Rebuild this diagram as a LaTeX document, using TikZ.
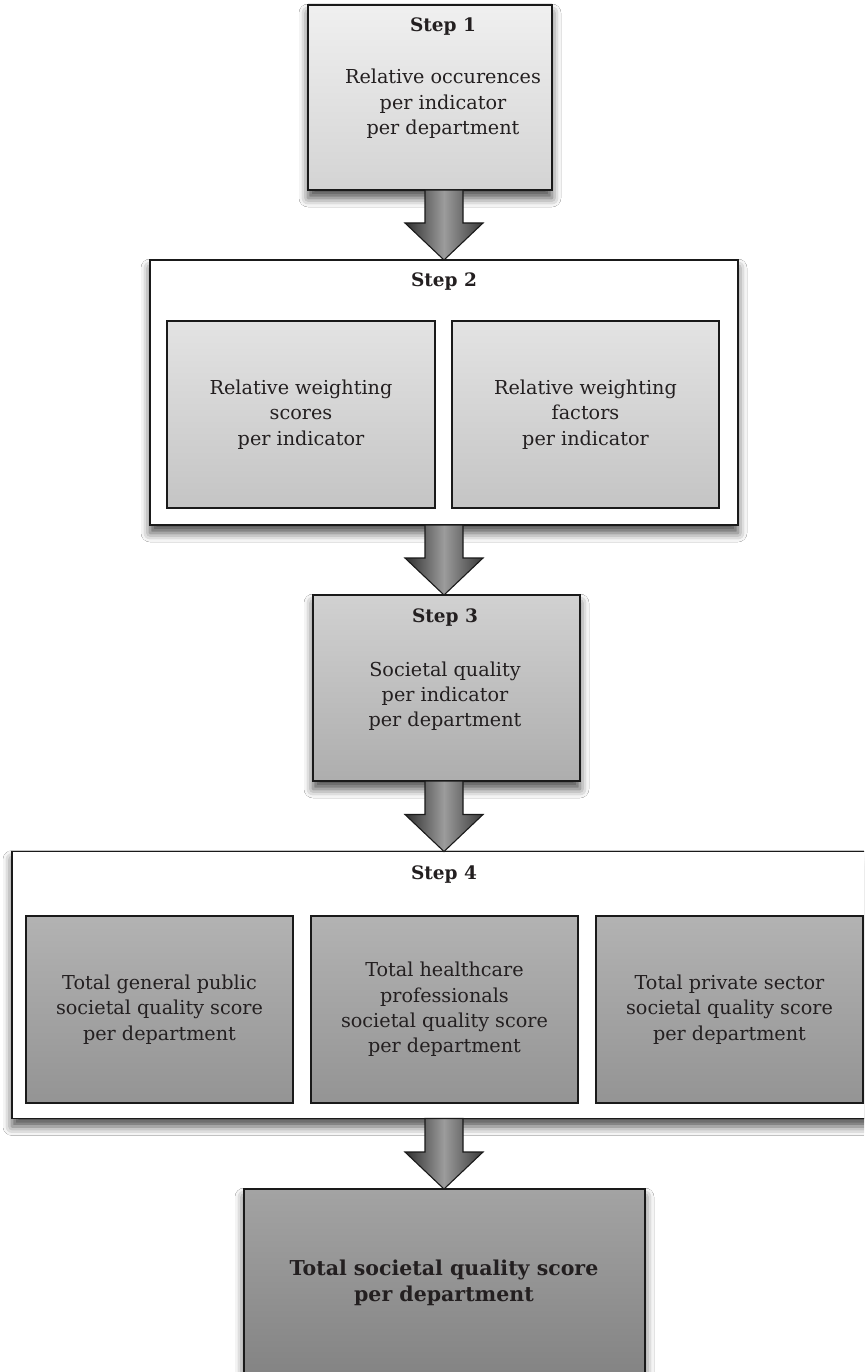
\documentclass[tikz,border=0pt]{standalone}
\usepackage{fontspec}
\setmainfont{DejaVu Serif}
\usetikzlibrary{calc,shadows.blur}
\definecolor{txt}{HTML}{231F20}
\definecolor{edge}{HTML}{1A1A1A}
\tikzset{
  box/.style={draw=edge, line width=1.4pt, rectangle, inner sep=0pt, outer sep=0pt,
    blur shadow={shadow xshift=0pt, shadow yshift=-8pt, shadow blur radius=9pt, shadow opacity=70}},
  inbox/.style={draw=edge, line width=1.1pt, rectangle, inner sep=0pt, outer sep=0pt},
  body/.style={text=txt, align=center, font=\fontsize{19.2}{25.3}\selectfont, inner sep=0pt},
  titletext/.style={text=txt, align=center, font=\fontsize{18.5}{25.3}\selectfont\bfseries, inner sep=0pt},
  finaltext/.style={text=txt, align=center, font=\fontsize{20.5}{26.5}\selectfont\bfseries, inner sep=0pt},
  flow/.style={draw=edge, line width=1.1pt, line join=miter, left color=arrL, right color=arrR, middle color=arrM}
}
\definecolor{arrL}{HTML}{2E2E2E}
\definecolor{arrM}{HTML}{9C9C9C}
\definecolor{arrR}{HTML}{3A3A3A}
\newcommand{\flowarrow}[2]{%
  \path[flow] let \p1=(#1.south), \p2=(#2.north) in
    (425pt,\y1) -- (425pt,\y2+37pt) -- (405pt,\y2+37pt) -- (444pt,\y2) --
    (483pt,\y2+37pt) -- (463pt,\y2+37pt) -- (463pt,\y1) -- cycle;}
\begin{document}
\begin{tikzpicture}[x=1pt,y=-1pt]
\clip (0,0) rectangle (864,1372);
\fill[white] (0,0) rectangle (864,1372);
% Step 1
\node[box, minimum width=244pt, minimum height=185pt, top color=white!94!black, bottom color=white!83!black] (s1) at (430,97.5) {};
\node[titletext] (t1) at (443,27) {Step 1};
\node[body] (b1) at (443,104) {Relative occurences\\per indicator\\per department};
% Step 2
\node[box, fill=white, minimum width=588pt, minimum height=265pt] (s2) at (444,392.5) {};
\node[titletext] (t2) at (444,282) {Step 2};
\node[inbox, minimum width=268pt, minimum height=187pt, top color=white!89!black, bottom color=white!77!black] (s2a) at (301,414.5) {};
\node[inbox, minimum width=267pt, minimum height=187pt, top color=white!89!black, bottom color=white!77!black] (s2b) at (585.5,414.5) {};
\node[body] (b2a) at (s2a.center) {Relative weighting\\scores\\per indicator};
\node[body] (b2b) at (s2b.center) {Relative weighting\\factors\\per indicator};
% Step 3
\node[box, minimum width=267pt, minimum height=186pt, top color=white!82!black, bottom color=white!68!black] (s3) at (446.5,688) {};
\node[titletext] (t3) at (445,618) {Step 3};
\node[body] (b3) at (445,696) {Societal quality\\per indicator\\per department};
% Step 4
\node[box, fill=white, minimum width=862pt, minimum height=267pt] (s4) at (443,985) {};
\node[titletext] (t4) at (444,875) {Step 4};
\node[inbox, minimum width=267pt, minimum height=187pt, top color=white!70!black, bottom color=white!58!black] (s4a) at (159.5,1009.5) {};
\node[inbox, minimum width=267pt, minimum height=187pt, top color=white!70!black, bottom color=white!58!black] (s4b) at (444.5,1009.5) {};
\node[inbox, minimum width=267pt, minimum height=187pt, top color=white!70!black, bottom color=white!58!black] (s4c) at (729.5,1009.5) {};
\node[body] (b4a) at (s4a.center) {Total general public\\societal quality score\\per department};
\node[body] (b4b) at (s4b.center) {Total healthcare\\professionals\\societal quality score\\per department};
\node[body] (b4c) at (s4c.center) {Total private sector\\societal quality score\\per department};
% Final
\node[box, minimum width=401pt, minimum height=240pt, top color=white!64!black, bottom color=white!48!black] (s5) at (444.5,1309) {};
\node[finaltext] (b5) at (444,1283) {Total societal quality score\\per department};
% Arrows
\flowarrow{s1}{s2}
\flowarrow{s2}{s3}
\flowarrow{s3}{s4}
\flowarrow{s4}{s5}
\end{tikzpicture}
\end{document}
